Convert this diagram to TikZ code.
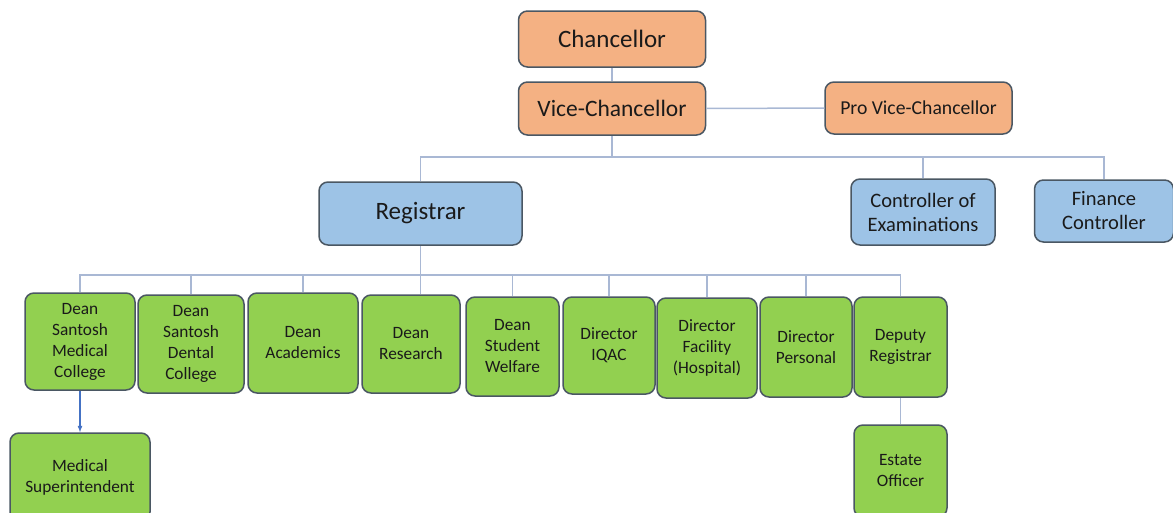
\documentclass[tikz,border=0pt]{standalone}
\usepackage{fontspec}
\setmainfont{Carlito}
\definecolor{orgfill}{HTML}{F4B183}
\definecolor{regfill}{HTML}{9DC3E6}
\definecolor{deanfill}{HTML}{92D050}
\definecolor{boxline}{HTML}{4A5763}
\definecolor{linkcol}{HTML}{A9B8D4}
\definecolor{arrowcol}{HTML}{4472C4}
\definecolor{txt}{HTML}{1A1A1A}
\begin{document}
\begin{tikzpicture}[
  box/.style={draw=boxline, line width=1.5pt, rounded corners=9pt, align=center, inner sep=0pt, text=txt},
  topbox/.style={box, fill=orgfill},
  regbox/.style={box, fill=regfill},
  deanbox/.style={box, fill=deanfill, font=\fontsize{17.3}{21}\selectfont},
  link/.style={draw=linkcol, line width=1.5pt}
]
\begin{scope}[x={(1pt,0)},y={(0,-1pt)}]
\useasboundingbox (0,0) rectangle (1173,512);

% top level
\node[topbox, minimum width=187, minimum height=56, font=\fontsize{25}{30}\selectfont] (chan) at (612,39) {Chancellor};
\node[topbox, minimum width=187, minimum height=53, font=\fontsize{23.5}{28}\selectfont] (vc) at (612,108.5) {Vice-Chancellor};
\node[topbox, minimum width=187, minimum height=52, font=\fontsize{19.7}{24}\selectfont] (pvc) at (918.5,108) {Pro Vice-Chancellor};

% second level
\node[regbox, minimum width=203, minimum height=63, font=\fontsize{25}{30}\selectfont] (reg) at (420.5,213.5) {Registrar};
\node[regbox, minimum width=144, minimum height=66, font=\fontsize{20.5}{24}\selectfont] (coe) at (923,212) {Controller of\\Examinations};
\node[regbox, minimum width=139, minimum height=62, font=\fontsize{20.5}{24}\selectfont] (fin) at (1104,211) {Finance\\Controller};

% deans and directors
\node[deanbox, minimum width=110, minimum height=97] (dsmc) at (80,341.5) {Dean\\Santosh\\Medical\\College};
\node[deanbox, minimum width=106, minimum height=98] (dsdc) at (191,344) {Dean\\Santosh\\Dental\\College};
\node[deanbox, minimum width=110, minimum height=100] (dacad) at (303,343) {Dean\\Academics};
\node[deanbox, minimum width=98, minimum height=98] (dres) at (411,344) {Dean\\Research};
\node[deanbox, minimum width=93, minimum height=99] (dsw) at (512.5,346.5) {Dean\\Student\\Welfare};
\node[deanbox, minimum width=92, minimum height=97] (diqac) at (609,345.5) {Director\\IQAC};
\node[deanbox, minimum width=100, minimum height=100] (dfac) at (707,348) {Director\\Facility\\(Hospital)};
\node[deanbox, minimum width=92, minimum height=100] (dper) at (806,347) {Director\\Personal};
\node[deanbox, minimum width=93, minimum height=100] (dreg) at (900.5,347) {Deputy\\Registrar};

% bottom level
\node[deanbox, minimum width=140, minimum height=88] (medsup) at (80,477) {Medical\\Superintendent};
\node[deanbox, minimum width=93, minimum height=92] (estate) at (900.5,471) {Estate\\Officer};

% connectors
\coordinate (bustop) at (0,157);
\coordinate (busmid) at (0,275);
\draw[link] (chan) -- (vc);
\draw[link] (vc) -- (pvc);
\draw[link] (vc.south) -- (vc.south |- bustop);
\draw[link] (reg.north) -- (reg.north |- bustop) -- (fin.north |- bustop) -- (fin.north);
\draw[link] (coe.north) -- (coe.north |- bustop);
\draw[link] (reg.south) -- (reg.south |- dres.north);
\draw[link] (dsmc.north) -- (dsmc.north |- busmid) -- (dreg.north |- busmid) -- (dreg.north);
\foreach \n in {dsdc,dacad,dsw,diqac,dfac,dper}
  \draw[link] (\n.north) -- (\n.north |- busmid);
\draw[link] (dreg) -- (estate);
\draw[draw=arrowcol, line width=1.2pt, -latex] (dsmc) -- (medsup);

\end{scope}
\end{tikzpicture}
\end{document}
